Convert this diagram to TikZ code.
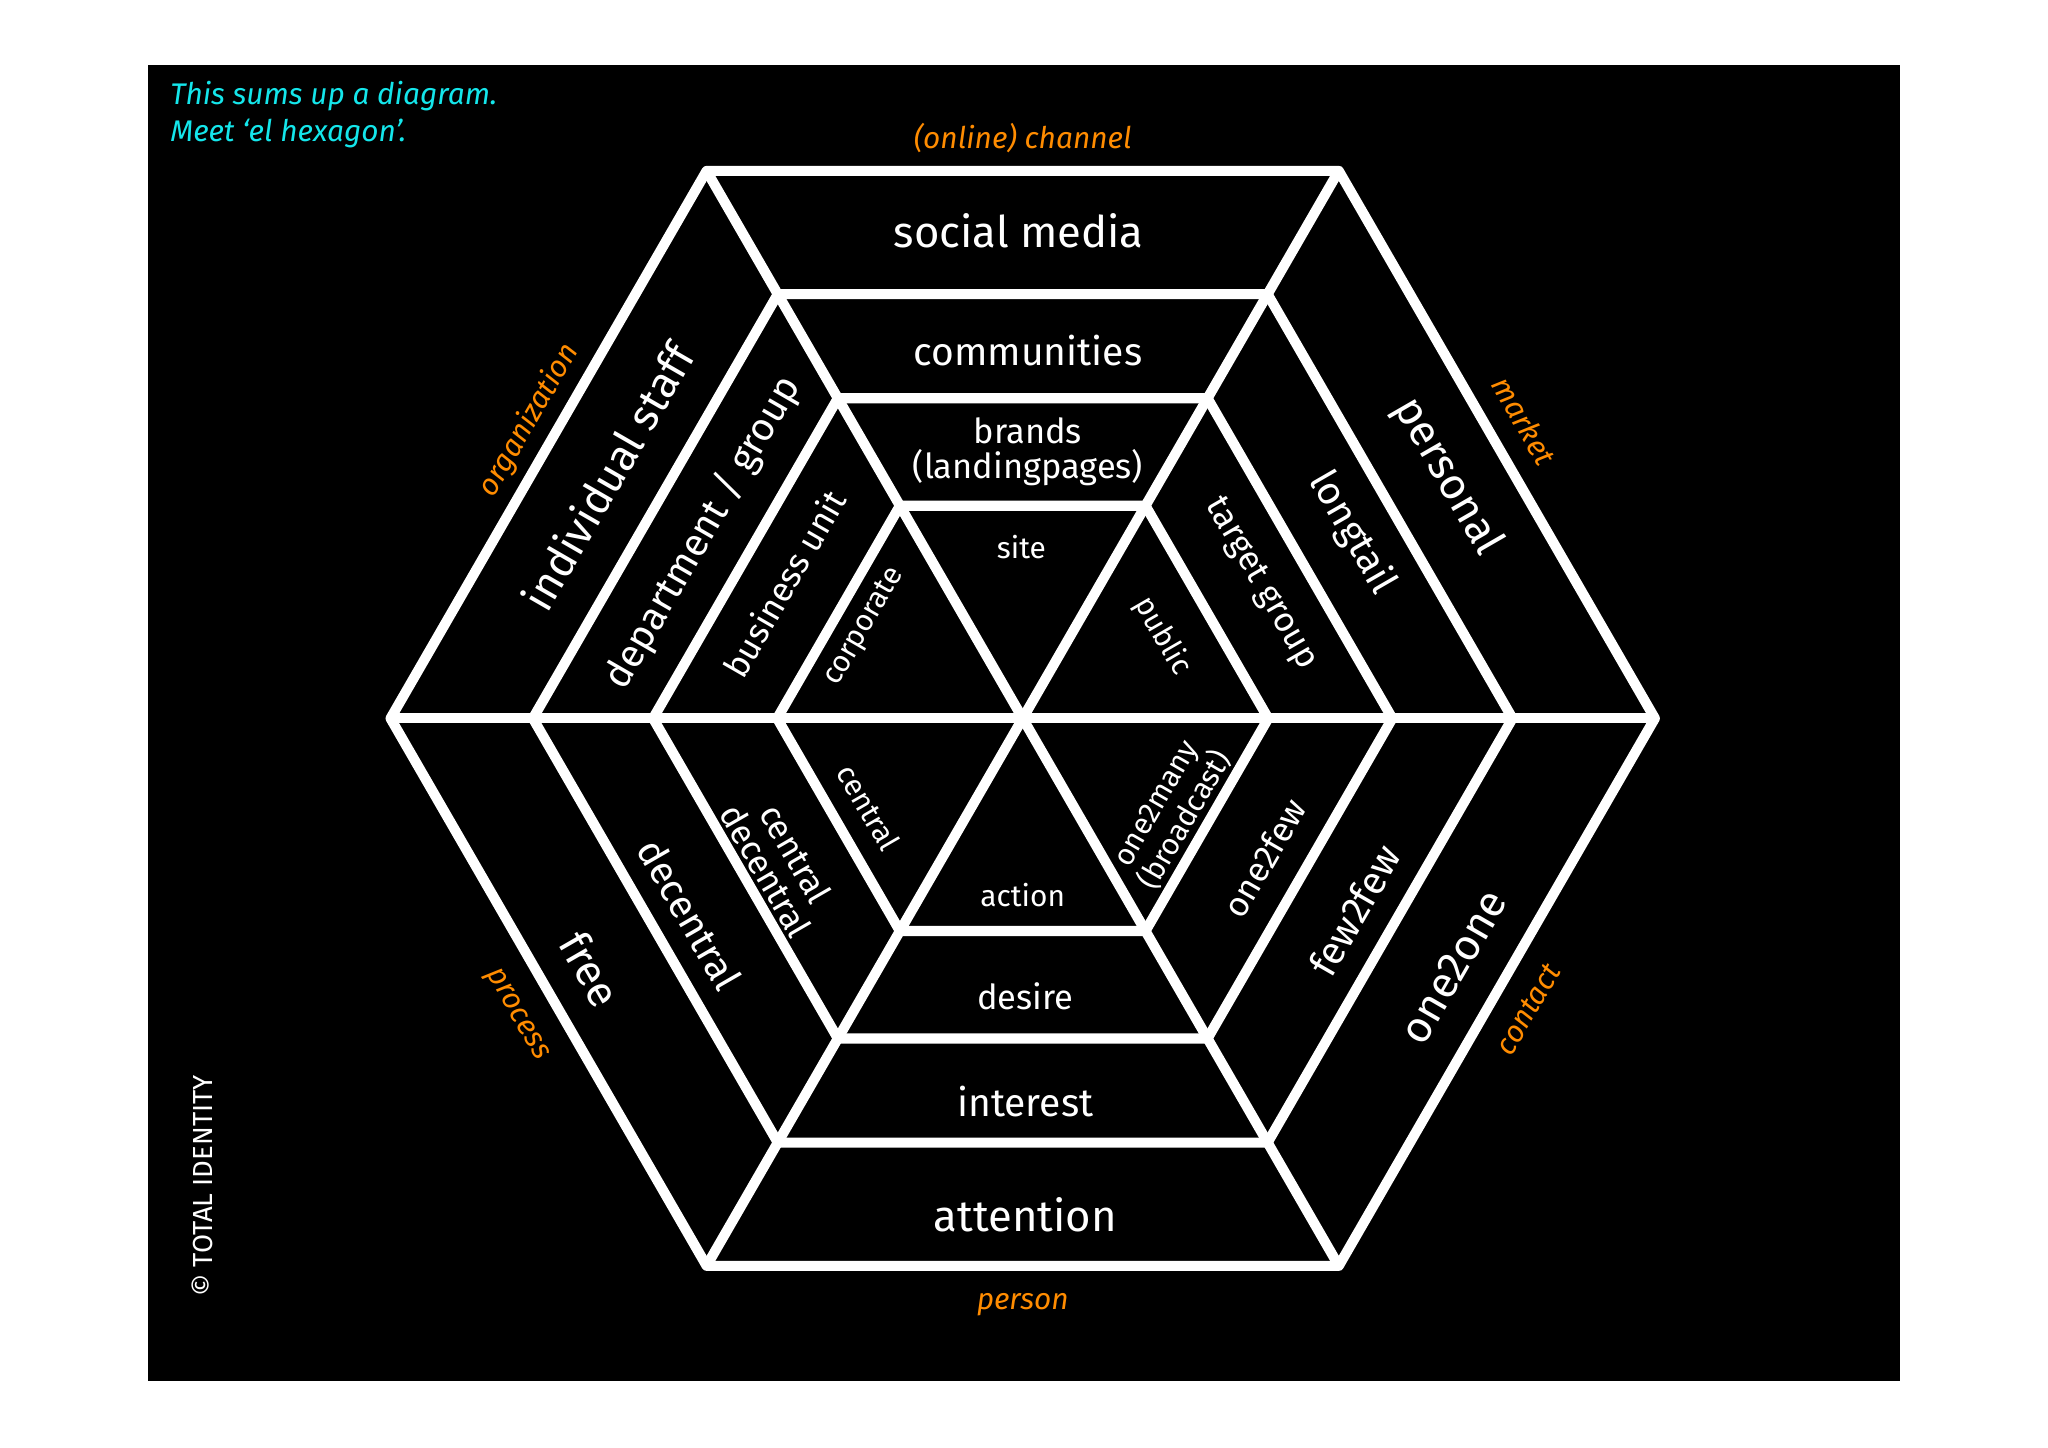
\documentclass[tikz,border=0pt]{standalone}
\usepackage{fontspec}
\setmainfont{Fira Sans}
\usetikzlibrary{calc}
\definecolor{aqua}{RGB}{20,230,235}
\begin{document}
\begin{tikzpicture}[x=0.02cm,y=-0.02cm,
  lbl/.style={text=white,font=\fontsize{#1}{#1}\selectfont,align=center,inner sep=0pt},
  lbl/.default=16,
  cat/.style={text=orange!90!yellow,font=\itshape\fontsize{13}{13}\selectfont,inner sep=0pt},
  wl/.style={draw=white,line width=4.4pt,line join=round}]
\fill[white] (0,0) rectangle (1568,1108);
\fill[black] (113,50) rectangle (1455,1057);
\coordinate (c) at (783,550);
\foreach \r in {484,375,283,188}{
  \draw[wl] ($(c)+(\r,0)$) \foreach \a in {60,120,...,300}{ -- ($(c)+({\r*cos(\a)},{-\r*sin(\a)})$)} -- cycle;}
\foreach \a in {0,60,120}{
  \draw[wl] ($(c)+({484*cos(\a)},{-484*sin(\a)})$) -- ($(c)+({-484*cos(\a)},{484*sin(\a)})$);}
% top
\node[lbl=19] (sm) at (780,177) {social media};
\node[lbl=17] (co) at (787,268) {communities};
\node[lbl=15] (br) at (787,346) {brands\\(landingpages)};
\node[lbl=13] (si) at (782,419) {site};
% bottom
\node[lbl=19] (at) at (785,930) {attention};
\node[lbl=17] (in) at (785,843) {interest};
\node[lbl=15] (de) at (785,763) {desire};
\node[lbl=13] (ac) at (783,685) {action};
% upper left
\node[lbl=19,rotate=60] (is) at (465,365) {individual staff};
\node[lbl=17,rotate=60] (dg) at (538,408) {department / group};
\node[lbl=15,rotate=60] (bu) at (600,447) {business unit};
\node[lbl=13,rotate=60] (cp) at (662,480) {corporate};
% upper right
\node[lbl=19,rotate=-60] (pe) at (1108,365) {personal};
\node[lbl=17,rotate=-60] (lt) at (1035,408) {longtail};
\node[lbl=15,rotate=-60] (tg) at (965,447) {target group};
\node[lbl=13,rotate=-60] (pu) at (890,487) {public};
% lower left
\node[lbl=19,rotate=-60] (fr) at (452,742) {free};
\node[lbl=17,rotate=-60] (dc) at (528,700) {decentral};
\node[lbl=15,rotate=-60] (cd) at (598,660) {central\\decentral};
\node[lbl=13,rotate=-60] (ce) at (665,618) {central};
% lower right
\node[lbl=19,rotate=60] (oo) at (1113,740) {one2one};
\node[lbl=17,rotate=60] (ff) at (1037,697) {few2few};
\node[lbl=15,rotate=60] (of) at (968,657) {one2few};
\node[lbl=13,rotate=60] (om) at (897,622) {one2many\\(broadcast)};
% categories
\node[cat] (ch) at (783,106) {(online) channel};
\node[cat] (ps) at (783,999) {person};
\node[cat,rotate=60] (og) at (405,322) {organization};
\node[cat,rotate=-60] (mk) at (1167,322) {market};
\node[cat,rotate=-60] (pr) at (395,777) {process};
\node[cat,rotate=60] (ct) at (1170,773) {contact};
\node[anchor=north west,text=aqua,font=\itshape\fontsize{13}{16}\selectfont,align=left,inner sep=0pt] (intro) at (130,62) {This sums up a diagram.\\Meet ‘el hexagon’.};
\node[rotate=90,text=white,font=\fontsize{12}{12}\selectfont,inner sep=0pt] (ti) at (155,908) {© TOTAL IDENTITY};
\useasboundingbox (0,0) rectangle (1568,1108);
\end{tikzpicture}
\end{document}
